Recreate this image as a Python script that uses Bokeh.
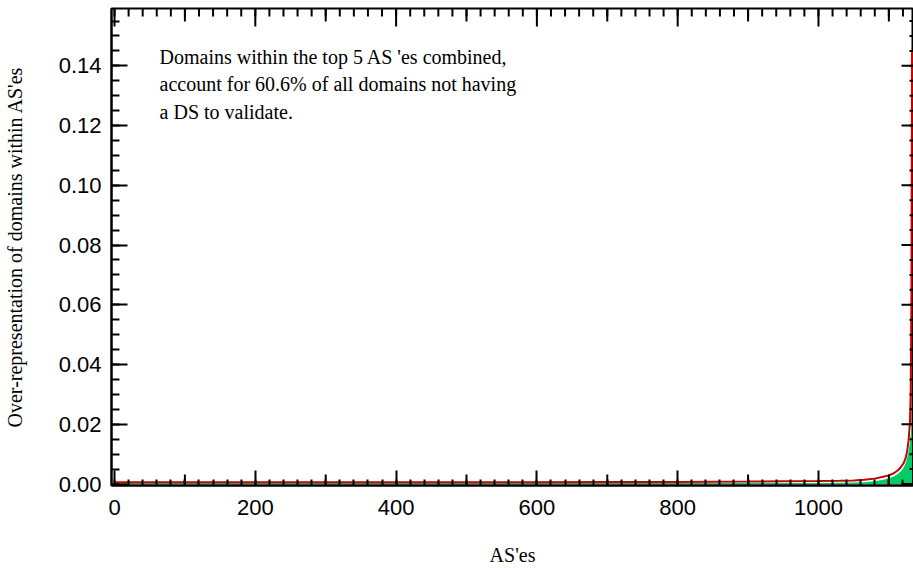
import math
from bokeh.plotting import figure
from bokeh.models import Range1d, FixedTicker, NumeralTickFormatter, Label
from bokeh.embed import file_html
from bokeh.resources import INLINE

# AS rank (sorted by over-representation) and measured values
as_rank = [0, 100, 200, 300, 400, 500, 600, 700, 800, 900, 950, 1000, 1030, 1050, 1065,
           1080, 1092, 1100, 1107, 1113, 1117, 1121, 1124, 1126, 1128, 1130, 1131, 1132, 1133]
over_rep = [0.0006, 0.0006, 0.0006, 0.0006, 0.0006, 0.0006, 0.0006, 0.0007, 0.0007, 0.0008,
            0.0009, 0.0010, 0.0011, 0.0012, 0.0014, 0.0018, 0.0024, 0.0029, 0.0036, 0.0046,
            0.0056, 0.0070, 0.0088, 0.0110, 0.0145, 0.0210, 0.0300, 0.0600, 0.1450]
no_ds = [0.0003, 0.0003, 0.0003, 0.0003, 0.0003, 0.0003, 0.0003, 0.0003, 0.0003, 0.0003,
         0.0003, 0.0003, 0.0004, 0.0005, 0.0006, 0.0009, 0.0014, 0.0019, 0.0025, 0.0034,
         0.0043, 0.0055, 0.0070, 0.0088, 0.0110, 0.0140, 0.0165, 0.0185, 0.0200]

x_major = [0, 200, 400, 600, 800, 1000]
x_mid = [100, 300, 500, 700, 900, 1100]
x_minor = [v for v in range(0, 1141, 20)]
y_major = [0.0, 0.02, 0.04, 0.06, 0.08, 0.10, 0.12, 0.14]
y_minor = [i * 0.005 for i in range(0, 33)]

annotation = ("Domains within the top 5 AS 'es combined,\n"
              "account for 60.6% of all domains not having\n"
              "a DS to validate.")

X0, X1 = -4.3, 1135
Y0, Y1 = -0.0005, 0.1592

p = figure(width=913, height=568, output_backend="svg", toolbar_location=None,
           x_range=Range1d(X0, X1), y_range=Range1d(Y0, Y1),
           min_border_left=0, min_border_right=0, min_border_top=8, min_border_bottom=0)
p.outline_line_color = "black"
p.outline_line_width = 2
p.xgrid.visible = False
p.ygrid.visible = False

p.varea(x=as_rank, y1=0, y2=no_ds, fill_color="#00CC66")
p.line(x=as_rank, y=over_rep, line_color="#CC0000", line_width=2)

serif = "Liberation Serif"
sans = "Liberation Sans"

def style(ax):
    ax.axis_line_width = 2
    ax.axis_line_color = "black"
    ax.major_tick_line_width = 2
    ax.minor_tick_line_width = 2
    ax.major_tick_out = 0
    ax.minor_tick_out = 0
    ax.major_label_text_font = sans
    ax.major_label_text_font_size = "22px"
    ax.major_label_text_color = "black"
    ax.axis_label_text_font = serif
    ax.axis_label_text_font_size = "20px"
    ax.axis_label_text_font_style = "normal"
    ax.axis_label_text_color = "black"

xb = p.xaxis[0]
xb.ticker = FixedTicker(ticks=x_major, minor_ticks=x_minor)
style(xb)
xb.major_tick_in = 15
xb.minor_tick_in = 6
xb.major_label_standoff = 14
xb.axis_label = "AS'es"
xb.axis_label_standoff = 26

yl = p.yaxis[0]
yl.ticker = FixedTicker(ticks=y_major, minor_ticks=y_minor)
yl.formatter = NumeralTickFormatter(format="0.00")
style(yl)
yl.major_tick_in = 16
yl.minor_tick_in = 8
yl.major_label_standoff = 10
yl.axis_label = "Over-representation of domains within AS'es"
yl.axis_label_standoff = 30

# inward tick marks on the bottom (mid), top and right edges, clipped by the frame
def ticks(xs, ys, length, vertical):
    p.scatter(x=xs, y=ys, marker="dash", size=2 * length,
              angle=(math.pi / 2 if vertical else 0.0),
              line_color="black", line_width=2)

ticks(x_mid, [Y0] * len(x_mid), 11, True)
ticks(x_minor, [Y1] * len(x_minor), 8, True)
ticks(x_mid, [Y1] * len(x_mid), 13, True)
ticks(x_major, [Y1] * len(x_major), 18, True)
ticks([X1] * len(y_minor), y_minor, 4, False)
ticks([X1] * len(y_major), y_major, 12, False)

lab = Label(x=64, y=0.1467, text=annotation, text_font=serif, text_font_size="20px",
            text_baseline="top", text_align="left", text_color="black", text_line_height=1.25)
p.add_layout(lab)

open("out.html", "w").write(file_html(p, INLINE))
